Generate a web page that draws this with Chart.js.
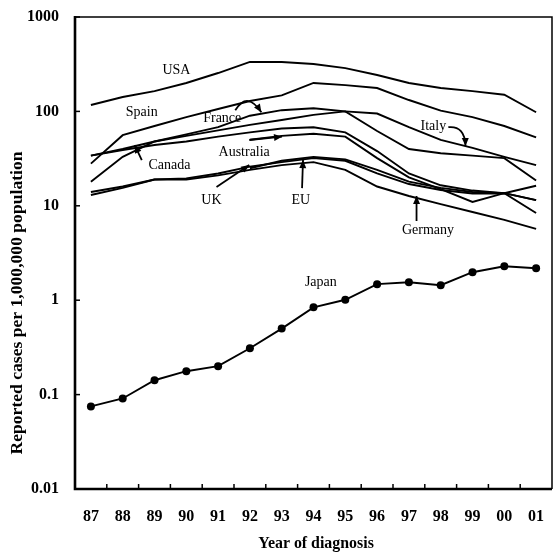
<!DOCTYPE html>
<html><head><meta charset="utf-8">
<script src="https://cdn.jsdelivr.net/npm/chart.js@4.4.1/dist/chart.umd.min.js"></script>
<style>html,body{margin:0;padding:0;background:#fff;}#wrap{width:556px;height:556px;}</style>
</head><body><div id="wrap"><canvas id="c" width="556" height="556"></canvas></div>
<script>
// ---- data ----
const years = ['87','88','89','90','91','92','93','94','95','96','97','98','99','00','01'];
const usa       = [117,142,164,200,255,334,334,318,287,243,200,177,164,150,98];
const spain     = [28,56,70,87,106,129,148,200,190,177,132,102,87,70,53];
const france    = [34,40,48,57,68,90,103,108,100,62,40,36,34,32,18.5];
const italy     = [18,33,48,55,63,72,81,92,100,95,68,50,41,33,27];
const canada    = [34,39,44,48,54,60,66,68,60,38,22,16.5,14.5,13.6,16.3];
const australia = [null,null,null,null,null,50,55,58,54,32,20,15,11,13.6,11.5];
const uk        = [13,15.5,19,19.5,22,26,29,32,30,22,17,14.7,13.5,13.6,8.4];
const eu        = [null,null,null,null,null,25,30,33,31,24,18,15.5,14,13.6,11.5];
const germany   = [14,16,19,19,21,24,27,29,24,16,12.7,10.4,8.6,7.1,5.7];
const japan     = [0.075,0.091,0.142,0.177,0.2,0.31,0.5,0.84,1.01,1.48,1.55,1.44,1.98,2.29,2.18];

const yTicks = [0.01,0.1,1,10,100,1000];
const yTickLabels = ['0.01','0.1','1','10','100','1000'];
const yTitle = 'Reported cases per 1,000,000 population';
const xTitle = 'Year of diagnosis';

// annotation labels, in data coordinates [category index, value]
const notes = [
  {text:'USA', at:[2.69,275]},
  {text:'Spain', at:[1.6,98]},
  {text:'France', at:[4.13,85]},
  {text:'Canada', at:[2.47,27]},
  {text:'Australia', at:[4.82,37]},
  {text:'UK', at:[3.79,11.5]},
  {text:'EU', at:[6.6,11.5]},
  {text:'Italy', at:[10.77,70]},
  {text:'Germany', at:[10.6,5.5]},
  {text:'Japan', at:[7.23,1.55]}
];
// arrows: from, [control], to (data coordinates)
const arrows = [
  {from:[1.6,30.5], to:[1.38,44]},
  {from:[4.98,49.8], to:[6.01,54]},
  {from:[3.95,15.8], to:[4.98,27]},
  {from:[6.64,15.4], to:[6.67,30.5]},
  {from:[10.24,6.9], to:[10.24,12.7]},
  {from:[4.54,103], ctrl:[4.92,165], to:[5.36,98]},
  {from:[11.24,68], ctrl:[11.76,71], to:[11.78,43]}
];

const SERIF = '"Liberation Serif", "DejaVu Serif", serif';

function ds(label, data, pts){
  return {label, data, borderColor:'#000', backgroundColor:'#000', borderWidth:1.9,
    pointRadius: pts?4:0, pointHoverRadius:0, pointBackgroundColor:'#000', pointBorderWidth:0,
    tension:0, spanGaps:false, fill:false};
}

const decor = {
  id:'decor',
  afterDraw(chart){
    const ctx = chart.ctx, a = chart.chartArea;
    const xs = chart.scales.x, ys = chart.scales.y;
    const P = (d)=>[xs.getPixelForValue(d[0]), ys.getPixelForValue(d[1])];
    ctx.save();
    ctx.strokeStyle='#000'; ctx.fillStyle='#000';
    // frame
    ctx.lineWidth=1.5;
    ctx.beginPath(); ctx.moveTo(a.left,a.top); ctx.lineTo(a.right,a.top); ctx.lineTo(a.right,a.bottom); ctx.stroke();
    ctx.lineWidth=2.6;
    ctx.beginPath(); ctx.moveTo(a.left,a.top-1); ctx.lineTo(a.left,a.bottom); ctx.lineTo(a.right,a.bottom); ctx.stroke();
    // inward ticks
    ctx.lineWidth=1.5;
    yTicks.forEach(v=>{ const y=ys.getPixelForValue(v); ctx.beginPath(); ctx.moveTo(a.left,y); ctx.lineTo(a.left+5,y); ctx.stroke(); });
    for(let i=0;i<years.length-1;i++){
      const x=(xs.getPixelForValue(i)+xs.getPixelForValue(i+1))/2;
      ctx.beginPath(); ctx.moveTo(x,a.bottom); ctx.lineTo(x,a.bottom-5); ctx.stroke();
    }
    // titles
    ctx.textAlign='center'; ctx.textBaseline='middle';
    ctx.font='bold 14px '+SERIF;
    let w = ctx.measureText(xTitle).width; let fs = 14*116/w;
    ctx.font='bold '+fs.toFixed(1)+'px '+SERIF;
    ctx.fillText(xTitle, 316, 544);
    ctx.font='bold 14px '+SERIF;
    w = ctx.measureText(yTitle).width; fs = 14*303/w;
    ctx.save(); ctx.translate(17,303); ctx.rotate(-Math.PI/2);
    ctx.font='bold '+fs.toFixed(1)+'px '+SERIF;
    ctx.fillText(yTitle,0,0); ctx.restore();
    // notes
    ctx.font='14px '+SERIF;
    notes.forEach(n=>{ const p=P(n.at); ctx.fillText(n.text,p[0],p[1]); });
    // arrows
    ctx.lineWidth=1.8;
    arrows.forEach(ar=>{
      const f=P(ar.from), t=P(ar.to);
      ctx.beginPath(); ctx.moveTo(f[0],f[1]);
      let ang;
      if(ar.ctrl){ const c=P(ar.ctrl); ctx.quadraticCurveTo(c[0],c[1],t[0],t[1]); ang=Math.atan2(t[1]-c[1],t[0]-c[0]); }
      else { ctx.lineTo(t[0],t[1]); ang=Math.atan2(t[1]-f[1],t[0]-f[0]); }
      ctx.stroke();
      const L=8, W=3.5;
      ctx.beginPath();
      ctx.moveTo(t[0],t[1]);
      ctx.lineTo(t[0]-L*Math.cos(ang)+W*Math.sin(ang), t[1]-L*Math.sin(ang)-W*Math.cos(ang));
      ctx.lineTo(t[0]-L*Math.cos(ang)-W*Math.sin(ang), t[1]-L*Math.sin(ang)+W*Math.cos(ang));
      ctx.closePath(); ctx.fill();
    });
    ctx.restore();
  }
};

new Chart(document.getElementById('c'), {
  type:'line',
  data:{ labels: years, datasets:[
    ds('USA',usa), ds('Spain',spain), ds('France',france), ds('Italy',italy),
    ds('Canada',canada), ds('Australia',australia), ds('UK',uk), ds('EU',eu),
    ds('Germany',germany), ds('Japan',japan,true)
  ]},
  options:{
    responsive:false, animation:false, devicePixelRatio:1,
    layout:{padding:{top:17,right:2,left:0,bottom:0}},
    plugins:{legend:{display:false}, tooltip:{enabled:false}},
    scales:{
      x:{ type:'category', offset:true,
        grid:{display:false, drawTicks:false}, border:{display:false},
        ticks:{color:'#000', padding:18, maxRotation:0, autoSkip:false, font:{family:SERIF, size:16, weight:'bold'}},
        afterFit(s){ s.height = 67; s.paddingLeft = 0; s.paddingRight = 0; }
      },
      y:{ type:'logarithmic', min:0.01, max:1000,
        grid:{display:false, drawTicks:false}, border:{display:false},
        afterBuildTicks(s){ s.ticks = yTicks.map(v=>({value:v})); },
        ticks:{color:'#000', padding:16, font:{family:SERIF, size:16, weight:'bold'},
          callback(v){ const i=yTicks.indexOf(v); return i>=0? yTickLabels[i] : ''; } },
        afterFit(s){ s.width = 75; s.paddingTop = 0; s.paddingBottom = 0; }
      }
    }
  },
  plugins:[decor]
});
</script></body></html>
